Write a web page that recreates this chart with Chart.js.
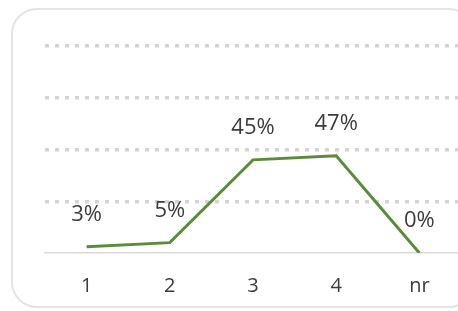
<!DOCTYPE html>
<html>
<head>
<meta charset="utf-8">
<script src="https://cdn.jsdelivr.net/npm/chart.js@4"></script>
<style>
  html, body { margin: 0; padding: 0; background: #fff; overflow: hidden; width: 458px; height: 311px; }
  #card { position: absolute; left: 11px; top: 8px; width: 460px; height: 296px;
          border: 2px solid #e4e4e4; border-radius: 26px; box-sizing: content-box; }
  #wrap { position: absolute; left: 0; top: 0; width: 472px; height: 311px; }
</style>
</head>
<body>
<div id="card"></div>
<div id="wrap"><canvas id="chart"></canvas></div>
<script>
  // valores
  const categorias = ['1', '2', '3', '4', 'nr'];
  const porcentajes = [3, 5, 45, 47, 0];
  const etiquetas = ['3%', '5%', '45%', '47%', '0%'];

  // etiquetas encima de cada punto
  const etiquetasPlugin = {
    id: 'etiquetas',
    afterDatasetsDraw(chart) {
      const ctx = chart.ctx;
      const meta = chart.getDatasetMeta(0);
      ctx.save();
      ctx.font = '22px "Open Sans"';
      ctx.fillStyle = '#3c3c3c';
      ctx.textAlign = 'center';
      ctx.textBaseline = 'middle';
      meta.data.forEach((pt, i) => {
        ctx.fillText(etiquetas[i], pt.x, pt.y - 32);
      });
      ctx.restore();
    }
  };

  new Chart(document.getElementById('chart'), {
    type: 'line',
    data: {
      labels: categorias,
      datasets: [{
        data: porcentajes,
        borderColor: '#5b8b3b',
        borderWidth: 3,
        pointRadius: 0,
        tension: 0,
        fill: false
      }]
    },
    options: {
      responsive: true,
      maintainAspectRatio: false,
      animation: false,
      layout: { padding: { top: 46, right: 11, bottom: 0, left: 0 } },
      plugins: { legend: { display: false }, tooltip: { enabled: false } },
      scales: {
        x: {
          offset: true,
          afterFit(scale) { scale.height = 58; },
          grid: { display: false, drawTicks: false },
          border: { display: true, color: '#d9d9d9', width: 1.5 },
          ticks: { padding: 21, color: '#3c3c3c', font: { family: 'Open Sans', size: 20 } }
        },
        y: {
          min: 0,
          max: 100,
          afterFit(scale) { scale.width = 45; },
          ticks: { display: false, stepSize: 25 },
          border: { display: false, dash: [4, 6] },
          grid: {
            drawTicks: false,
            lineWidth: 3.5,
            color: (c) => c.tick && c.tick.value === 0 ? 'rgba(0,0,0,0)' : '#d4d4d4'
          }
        }
      }
    },
    plugins: [etiquetasPlugin]
  });
</script>
</body>
</html>
